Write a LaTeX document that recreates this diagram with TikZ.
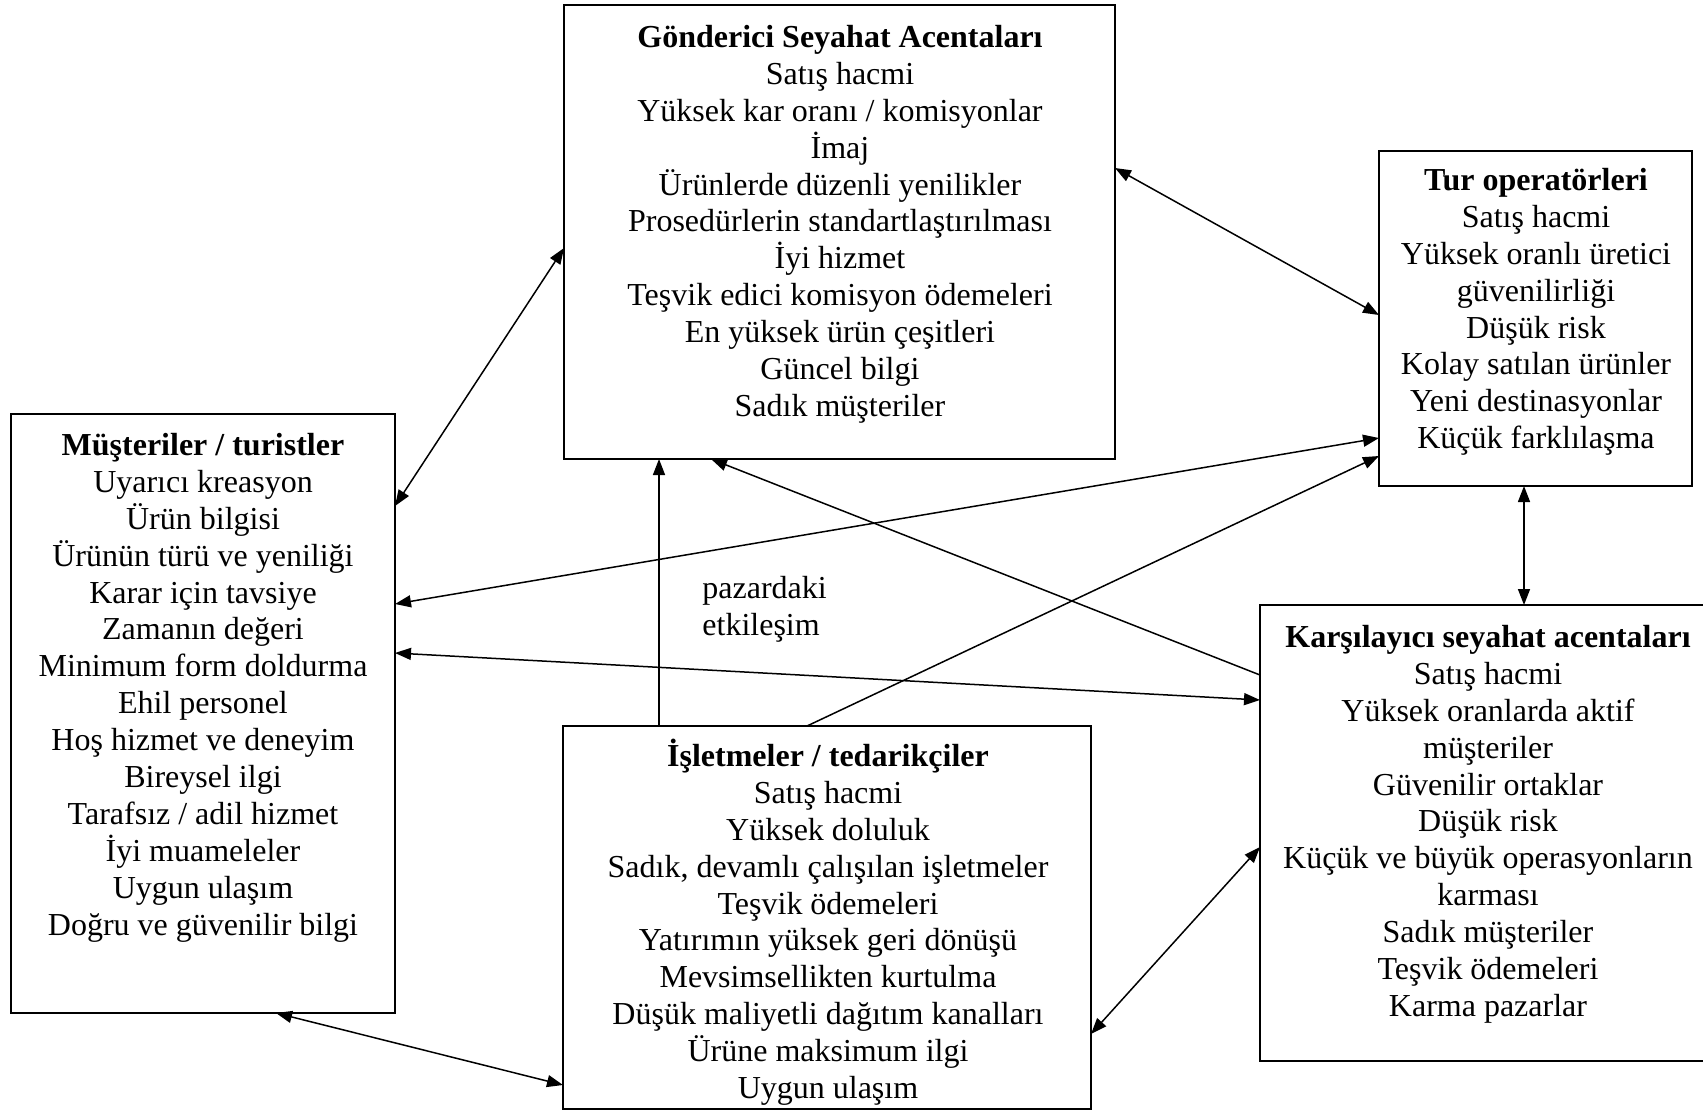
\documentclass[tikz,border=0pt]{standalone}
\usepackage{fontspec}
\setmainfont{Liberation Serif}
\usetikzlibrary{arrows.meta,calc}
\tikzset{
  box/.style={draw, line width=1pt, rectangle, inner sep=0pt, outer sep=0pt, anchor=north west},
  txt/.style={align=center, inner sep=0pt, anchor=north, font=\fontsize{16pt}{18.45pt}\selectfont},
  lbl/.style={align=left, inner sep=0pt, anchor=north west, font=\fontsize{16pt}{18.45pt}\selectfont},
  conn/.style={line width=0.75pt, -{Triangle[length=8pt,width=6pt]}},
  dconn/.style={line width=0.75pt, {Triangle[length=8pt,width=6pt]}-{Triangle[length=8pt,width=6pt]}}
}
\newcommand{\fl}{\rule{0pt}{15pt}}
\begin{document}
\begin{tikzpicture}[x=0.5pt,y=-0.5pt]
\useasboundingbox (0,0) rectangle (1703,1110);
\clip (0,0) rectangle (1703,1110);
% boxes
\node[box, minimum width=275.5pt, minimum height=227pt] (G) at (564,5) {};
\node[box, minimum width=156.5pt, minimum height=167.5pt] (T) at (1379,151) {};
\node[box, minimum width=192pt, minimum height=299.5pt] (M) at (11,414) {};
\node[box, minimum width=264pt, minimum height=191.5pt] (I) at (563,726) {};
\node[box, minimum width=228pt, minimum height=228pt] (K) at (1260,605) {};
% texts
\node[txt] (Gt) at (840,17) {\fl\textbf{Gönderici Seyahat Acentaları}\\ Satış hacmi\\ Yüksek kar oranı / komisyonlar\\ İmaj\\ Ürünlerde düzenli yenilikler\\ Prosedürlerin standartlaştırılması\\ İyi hizmet\\ Teşvik edici komisyon ödemeleri\\ En yüksek ürün çeşitleri\\ Güncel bilgi\\ Sadık müşteriler};
\node[txt] (Tt) at (1536,160) {\fl\textbf{Tur operatörleri}\\ Satış hacmi\\ Yüksek oranlı üretici\\ güvenilirliği\\ Düşük risk\\ Kolay satılan ürünler\\ Yeni destinasyonlar\\ Küçük farklılaşma};
\node[txt] (Mt) at (203,425) {\fl\textbf{Müşteriler / turistler}\\ Uyarıcı kreasyon\\ Ürün bilgisi\\ Ürünün türü ve yeniliği\\ Karar için tavsiye\\ Zamanın değeri\\ Minimum form doldurma\\ Ehil personel\\ Hoş hizmet ve deneyim\\ Bireysel ilgi\\ Tarafsız / adil hizmet\\ İyi muameleler\\ Uygun ulaşım\\ Doğru ve güvenilir bilgi};
\node[txt] (It) at (828,736) {\fl\textbf{İşletmeler / tedarikçiler}\\ Satış hacmi\\ Yüksek doluluk\\ Sadık, devamlı çalışılan işletmeler\\ Teşvik ödemeleri\\ Yatırımın yüksek geri dönüşü\\ Mevsimsellikten kurtulma\\ Düşük maliyetli dağıtım kanalları\\ Ürüne maksimum ilgi\\ Uygun ulaşım};
\node[txt] (Kt) at (1488,617) {\fl\textbf{Karşılayıcı seyahat acentaları}\\ Satış hacmi\\ Yüksek oranlarda aktif\\ müşteriler\\ Güvenilir ortaklar\\ Düşük risk\\ Küçük ve büyük operasyonların\\ karması\\ Sadık müşteriler\\ Teşvik ödemeleri\\ Karma pazarlar};
\node[lbl] (L) at (702,576) {pazardaki\\ etkileşim};
% connectors
\draw[dconn] ($(G.north west)+(0,243)$) -- ($(M.north east)+(0,92)$);
\draw[dconn] ($(G.north east)+(0,163)$) -- ($(T.north west)+(0,164)$);
\draw[dconn] ($(M.north east)+(0,190)$) -- ($(T.north west)+(0,287)$);
\draw[conn] ($(I.north west)+(244,0)$) -- ($(T.north west)+(0,305)$);
\draw[conn] ($(I.north west)+(96,0)$) -- ($(G.south west)+(95,0)$);
\draw[conn] ($(K.north west)+(0,70)$) -- ($(G.south west)+(147,0)$);
\draw[dconn] ($(M.north east)+(0,239)$) -- ($(K.north west)+(0,95)$);
\draw[dconn] ($(T.south west)+(145,0)$) -- ($(K.north west)+(264,0)$);
\draw[dconn] ($(I.north east)+(0,308)$) -- ($(K.north west)+(0,242)$);
\draw[dconn] ($(M.south west)+(265,0)$) -- ($(I.north west)+(0,359)$);
\end{tikzpicture}
\end{document}
